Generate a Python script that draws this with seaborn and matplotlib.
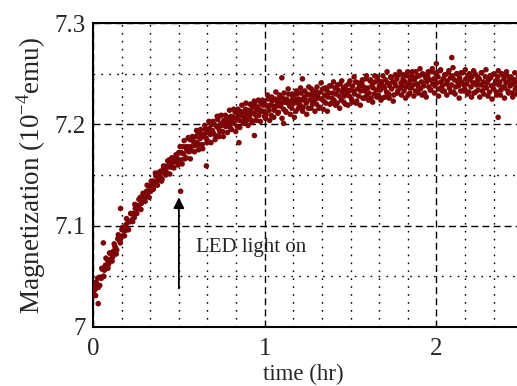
import numpy as np
import pandas as pd
import matplotlib
matplotlib.use("Agg")
import matplotlib.pyplot as plt
from matplotlib.ticker import MultipleLocator
import seaborn as sns

# time in 1/1000 hr, magnetization as (M - 7) in 1/1000 of 10^-4 emu
t_rise = [0, 6, 12, 18, 24, 30, 36, 42, 48, 54, 60, 66, 72, 78, 84, 90, 96,
          102, 108, 114, 120, 126, 132, 138, 144, 150, 156, 162, 168, 174, 180,
          186, 192, 198, 204, 210, 216, 222, 228, 234, 240, 246, 252, 258, 264,
          270, 276, 282, 288, 294, 300, 306, 312, 318, 324, 330, 336, 342, 348,
          354, 360, 366, 372, 378, 384, 390, 396, 402, 408, 414, 420, 426, 432,
          438, 444, 450, 456, 462, 468, 474, 480, 486, 492, 498]
m_rise = [35, 32, 37, 44, 41, 39, 49, 49, 48, 57, 50, 56, 61, 60, 66, 62, 73,
          67, 72, 69, 75, 80, 78, 76, 87, 87, 85, 89, 96, 90, 96,
          95, 101, 96, 104, 104, 104, 112, 106, 112, 108, 117, 120, 117, 120,
          117, 128, 122, 127, 130, 126, 130, 134, 132, 139, 134, 134, 140, 144,
          142, 140, 149, 144, 149, 146, 149, 154, 146, 153, 157, 154, 153, 159,
          158, 165, 158, 162, 158, 166, 163, 165, 168, 164, 172]
t_rise2 = [3, 15, 27, 39, 51, 63, 75, 87, 99, 111, 123, 135, 147, 159, 171, 183,
           195, 207, 219, 231, 243, 255, 267, 279, 291, 303, 315, 327, 339, 351,
           363, 375, 387, 399, 411, 423, 435, 447, 459, 471, 483, 495]
m_rise2 = [40, 31, 48, 41, 58, 50, 68, 58, 73, 65, 82, 72, 91, 83, 98, 90,
           107, 96, 112, 104, 121, 112, 126, 116, 132, 124, 140, 128, 144, 136,
           152, 140, 153, 144, 159, 150, 164, 151, 167, 157, 170, 160]

t_mid = [504, 510, 516, 522, 528, 534, 540, 546, 552, 558, 564, 570, 576, 582,
         588, 594, 600, 606, 612, 618, 624, 630, 636, 642, 648, 654, 660, 666,
         672, 678, 684, 690, 696, 702, 708, 714, 720, 726, 732, 738, 744, 750,
         756, 762, 768, 774, 780, 786, 792, 798, 804, 810, 816, 822, 828, 834,
         840, 846, 852, 858, 864, 870, 876, 882, 888, 894, 900, 906, 912, 918,
         924, 930, 936, 942, 948, 954, 960, 966, 972, 978, 984, 990, 996]
m_mid = [172, 165, 172, 178, 171, 166, 178, 175, 178, 173, 185, 178, 174, 184,
         182, 179, 188, 182, 192, 180, 186, 190, 180, 190, 188, 195, 186, 192,
         183, 196, 190, 200, 194, 191, 200, 189, 198, 205, 196, 193, 201, 199,
         193, 204, 201, 198, 207, 200, 204, 197, 208, 203, 207, 201, 212, 206,
         198, 209, 204, 213, 209, 203, 212, 207, 215, 204, 210, 214, 208, 213,
         204, 217, 211, 220, 209, 214, 217, 209, 214, 221, 213, 219, 213]
t_mid2 = [507, 519, 531, 543, 555, 567, 579, 591, 603, 615, 627, 639, 651, 663,
          675, 687, 699, 711, 723, 735, 747, 759, 771, 783, 795, 807, 819, 831,
          843, 855, 867, 879, 891, 903, 915, 927, 939, 951, 963, 975, 987, 999]
m_mid2 = [178, 161, 184, 167, 187, 166, 188, 173, 194, 175, 195, 176, 199, 182,
          203, 182, 203, 185, 208, 188, 209, 188, 209, 192, 214, 195, 215, 193,
          215, 197, 219, 201, 221, 199, 220, 202, 223, 204, 224, 203, 224, 208]

t_late = [1002, 1008, 1014, 1020, 1026, 1032, 1038, 1044, 1050, 1056, 1062, 1068,
          1074, 1080, 1086, 1092, 1098, 1104, 1110, 1116, 1122, 1128, 1134, 1140,
          1146, 1152, 1158, 1164, 1170, 1176, 1182, 1188, 1194, 1200, 1206, 1212,
          1218, 1224, 1230, 1236, 1242, 1248, 1254, 1260, 1266, 1272, 1278, 1284,
          1290, 1296, 1302, 1308, 1314, 1320, 1326, 1332, 1338, 1344, 1350, 1356,
          1362, 1368, 1374, 1380, 1386, 1392, 1398, 1404, 1410, 1416, 1422, 1428,
          1434, 1440, 1446, 1452, 1458, 1464, 1470, 1476, 1482, 1488, 1494, 1500,
          1506, 1512, 1518, 1524, 1530, 1536, 1542, 1548, 1554, 1560, 1566, 1572,
          1578, 1584, 1590, 1596, 1602, 1608, 1614, 1620, 1626, 1632, 1638, 1644,
          1650, 1656, 1662, 1668, 1674, 1680, 1686, 1692, 1698, 1704, 1710, 1716,
          1722, 1728, 1734, 1740, 1746, 1752, 1758, 1764, 1770, 1776, 1782, 1788,
          1794, 1800, 1806, 1812, 1818, 1824, 1830, 1836, 1842, 1848, 1854, 1860,
          1866, 1872, 1878, 1884, 1890, 1896, 1902, 1908, 1914, 1920, 1926, 1932,
          1938, 1944, 1950, 1956, 1962, 1968, 1974, 1980, 1986, 1992, 1998, 2004,
          2010, 2016, 2022, 2028, 2034, 2040, 2046, 2052, 2058, 2064, 2070, 2076,
          2082, 2088, 2094, 2100, 2106, 2112, 2118, 2124, 2130, 2136, 2142, 2148,
          2154, 2160, 2166, 2172, 2178, 2184, 2190, 2196, 2202, 2208, 2214, 2220,
          2226, 2232, 2238, 2244, 2250, 2256, 2262, 2268, 2274, 2280, 2286, 2292,
          2298, 2304, 2310, 2316, 2322, 2328, 2334, 2340, 2346, 2352, 2358, 2364,
          2370, 2376, 2382, 2388, 2394, 2400, 2406, 2412, 2418, 2424, 2430, 2436,
          2442, 2448, 2454, 2460, 2466, 2472, 2478]
m_late = [220, 210, 218, 225, 214, 219, 209, 223, 218, 214, 225, 218,
          222, 212, 229, 218, 221, 226, 215, 222, 213, 225, 221, 230,
          218, 223, 216, 227, 221, 225, 213, 230, 221, 225, 219, 231,
          224, 217, 227, 225, 221, 230, 216, 229, 224, 235, 220, 228,
          224, 233, 220, 229, 226, 217, 232, 225, 235, 223, 229, 221,
          234, 227, 231, 220, 238, 226, 231, 224, 236, 230, 221, 234,
          228, 240, 224, 232, 236, 228, 220, 234, 231, 240, 228, 234,
          225, 238, 233, 230, 242, 223, 235, 228, 238, 233, 241, 226,
          237, 233, 245, 229, 236, 231, 243, 226, 239, 236, 230, 242,
          234, 247, 229, 238, 234, 242, 226, 238, 236, 244, 232, 241,
          230, 238, 247, 235, 242, 229, 241, 238, 245, 233, 249, 236,
          241, 238, 245, 233, 242, 237, 248, 229, 240, 244, 236, 252,
          239, 244, 233, 247, 240, 237, 248, 235, 242, 250, 238, 231,
          246, 242, 248, 237, 244, 234, 252, 240, 245, 238, 250, 241,
          247, 235, 253, 242, 238, 245, 233, 249, 240, 243, 251, 236,
          246, 239, 248, 232, 244, 237, 250, 242, 238, 246, 233, 242,
          251, 239, 235, 245, 240, 248, 232, 244, 237, 247, 241, 231,
          250, 239, 243, 234, 245, 239, 251, 233, 242, 237, 247, 236,
          241, 244, 232, 246, 238, 249, 235, 240, 243, 229, 247, 239,
          242, 234, 250, 237, 245, 236, 241, 248, 233, 243, 238, 246,
          231, 240, 244, 235, 242, 237, 247]
t_late2 = [1005, 1017, 1029, 1041, 1053, 1065, 1077, 1089, 1101, 1113, 1125, 1137,
           1149, 1161, 1173, 1185, 1197, 1209, 1221, 1233, 1245, 1257, 1269, 1281,
           1293, 1305, 1317, 1329, 1341, 1353, 1365, 1377, 1389, 1401, 1413, 1425,
           1437, 1449, 1461, 1473, 1485, 1497, 1509, 1521, 1533, 1545, 1557, 1569,
           1581, 1593, 1605, 1617, 1629, 1641, 1653, 1665, 1677, 1689, 1701, 1713,
           1725, 1737, 1749, 1761, 1773, 1785, 1797, 1809, 1821, 1833, 1845, 1857,
           1869, 1881, 1893, 1905, 1917, 1929, 1941, 1953, 1965, 1977, 1989, 2001,
           2013, 2025, 2037, 2049, 2061, 2073, 2085, 2097, 2109, 2121, 2133, 2145,
           2157, 2169, 2181, 2193, 2205, 2217, 2229, 2241, 2253, 2265, 2277, 2289,
           2301, 2313, 2325, 2337, 2349, 2361, 2373, 2385, 2397, 2409, 2421, 2433,
           2445, 2457, 2469]
m_late2 = [206, 229, 204, 227, 207, 232, 211, 226, 206, 231, 212, 235,
           210, 230, 207, 233, 216, 236, 213, 233, 210, 237, 216, 232,
           213, 237, 216, 241, 215, 236, 213, 238, 221, 242, 219, 239,
           216, 243, 222, 238, 219, 243, 222, 247, 221, 241, 219, 244,
           226, 248, 224, 244, 222, 248, 227, 243, 224, 248, 227, 252,
           226, 246, 223, 249, 231, 252, 229, 249, 226, 252, 231, 248,
           228, 252, 231, 255, 229, 249, 227, 252, 234, 255, 231, 251,
           228, 254, 233, 249, 229, 253, 232, 256, 230, 250, 226, 251,
           233, 254, 230, 250, 227, 253, 232, 247, 227, 251, 230, 254,
           228, 248, 225, 250, 232, 253, 229, 249, 226, 252, 231, 247,
           227, 251, 230]

# stray points away from the main band
t_stray = [30, 60, 160, 510, 660, 735, 850, 940, 1100, 1110, 1220, 2000, 2090, 2360]
m_stray = [23, 83, 117, 134, 159, 208, 182, 189, 246, 201, 245, 260, 266, 207]

t_all = t_rise + t_rise2 + t_mid + t_mid2 + t_late + t_late2 + t_stray
m_all = m_rise + m_rise2 + m_mid + m_mid2 + m_late + m_late2 + m_stray
df = pd.DataFrame({"time": np.array(t_all) / 1000.0,
                   "mag": 7.0 + np.array(m_all) / 1000.0})

sns.set_style("white")
plt.rcParams["font.family"] = ["Liberation Serif", "DejaVu Serif"]
plt.rcParams["mathtext.fontset"] = "custom"
plt.rcParams["mathtext.rm"] = "Liberation Serif"

fig = plt.figure(figsize=(5.17, 3.86), dpi=100)
ax = fig.add_axes([0.18, 0.153, 0.82, 0.787])

sns.scatterplot(data=df, x="time", y="mag", ax=ax, s=16, color="#7d0505",
                edgecolor="none", linewidth=0, zorder=3)

ax.set_xlim(0, 2.47)
ax.set_ylim(7.0, 7.3)
ax.xaxis.set_minor_locator(MultipleLocator(1 / 6))
ax.yaxis.set_minor_locator(MultipleLocator(0.05))
ax.set_xticks([0, 1, 2])
ax.set_xticklabels(["0", "1", "2"])
ax.set_yticks([7.0, 7.1, 7.2, 7.3])
ax.set_yticklabels(["7", "7.1", "7.2", "7.3"])

ax.grid(which="major", color="black", linestyle=(0, (5, 3)), linewidth=1.0)
ax.grid(which="minor", color="black", linestyle=(0, (1.2, 4.5)), linewidth=1.0)
ax.set_axisbelow(True)

ax.tick_params(which="both", length=0, labelsize=18)
ax.tick_params(axis="x", pad=8)
ax.tick_params(axis="y", pad=5)
for side in ["left", "bottom", "top"]:
    ax.spines[side].set_color("black")
    ax.spines[side].set_linewidth(1.5)
ax.spines["right"].set_visible(False)

ax.set_xlabel("time (hr)", fontsize=16.5)
ax.xaxis.label.set_va("baseline")
ax.xaxis.set_label_coords(0.495, -0.176)
ax.set_ylabel(r"Magnetization (10$^{-4}$emu)", fontsize=19.5, labelpad=5)

ax.annotate("", xy=(0.5, 7.128), xytext=(0.5, 7.038),
            arrowprops=dict(arrowstyle="-|>", color="black", lw=1.3,
                            mutation_scale=16, shrinkA=0, shrinkB=0))
ax.text(0.6, 7.078, "LED light on", fontsize=15, va="center", ha="left")

fig.savefig("out.png", dpi=100)
